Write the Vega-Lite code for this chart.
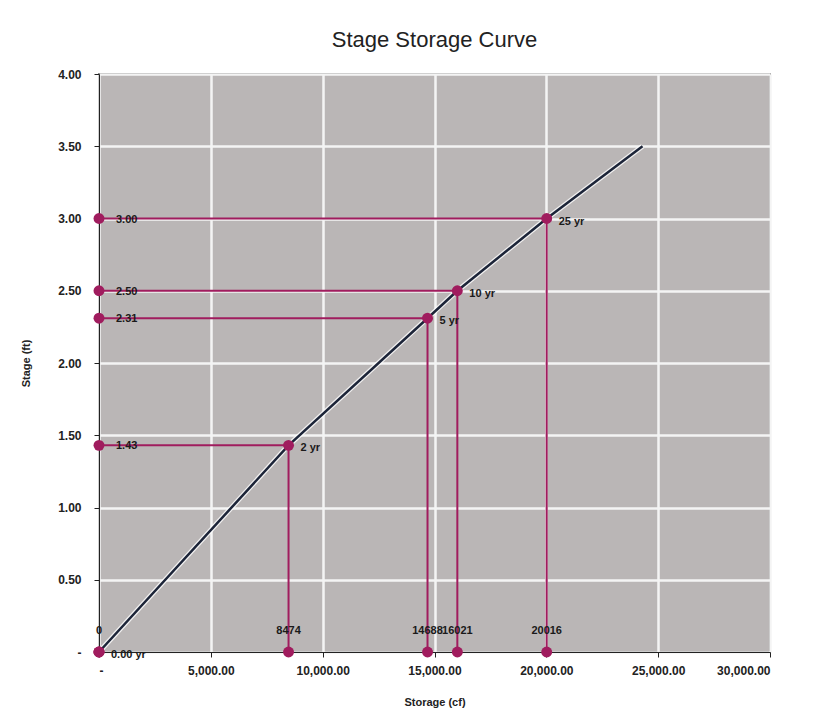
{
  "$schema": "https://vega.github.io/schema/vega-lite/v6.json",
  "autosize": "none",
  "width": 671,
  "height": 578,
  "padding": {"left": 99, "top": 74, "right": 53, "bottom": 75},
  "background": "white",
  "title": {"text": "Stage Storage Curve", "fontSize": 22, "font": "Liberation Sans", "fontWeight": "normal", "color": "#222222", "offset": 16},
  "config": {
    "view": {"fill": "#bab6b6", "stroke": "#333333", "strokeWidth": 1.5},
    "axis": {"labelFont": "Liberation Sans", "labelFontWeight": "bold", "labelFontSize": 12, "labelColor": "#222222", "titleFont": "Liberation Sans", "titleFontWeight": "bold", "titleFontSize": 11, "titleColor": "#222222", "domainColor": "#222222", "tickColor": "#222222"}
  },
  "datasets": {
    "curve": [
      {"s": 0, "h": 0},
      {"s": 8474, "h": 1.43},
      {"s": 14688, "h": 2.31},
      {"s": 16021, "h": 2.5},
      {"s": 20016, "h": 3.0},
      {"s": 24300, "h": 3.5}
    ],
    "events": [
      {"yr": "0.00 yr", "s": 0, "h": 0, "hlab": "", "slab": "0"},
      {"yr": "2 yr", "s": 8474, "h": 1.43, "hlab": "1.43", "slab": "8474"},
      {"yr": "5 yr", "s": 14688, "h": 2.31, "hlab": "2.31", "slab": "14688"},
      {"yr": "10 yr", "s": 16021, "h": 2.5, "hlab": "2.50", "slab": "16021"},
      {"yr": "25 yr", "s": 20016, "h": 3.0, "hlab": "3.00", "slab": "20016"}
    ]
  },
  "layer": [
    {
      "data": {"name": "curve"},
      "mark": {"type": "line", "color": "white", "strokeWidth": 5, "opacity": 0.8},
      "encoding": {
        "x": {"field": "s", "type": "quantitative", "scale": {"domain": [0, 30000], "nice": false},
          "axis": {"title": "Storage (cf)", "values": [0, 5000, 10000, 15000, 20000, 25000, 30000], "labelExpr": "datum.value == 0 ? '-' : format(datum.value, ',.2f')", "gridColor": "#f4f4f4", "gridWidth": 2.5, "gridOpacity": 1, "tickSize": 5, "labelPadding": 8, "titlePadding": 20}},
        "y": {"field": "h", "type": "quantitative", "scale": {"domain": [0, 4], "nice": false},
          "axis": {"title": "Stage (ft)", "values": [0, 0.5, 1, 1.5, 2, 2.5, 3, 3.5, 4], "labelExpr": "datum.value == 0 ? '-' : format(datum.value, '.2f')", "gridColor": "#f4f4f4", "gridWidth": 2.5, "gridOpacity": 1, "tickSize": 5, "labelPadding": 13, "titlePadding": 26}}
      }
    },
    {
      "data": {"name": "curve"},
      "mark": {"type": "line", "color": "#1c2438", "strokeWidth": 2.5},
      "encoding": {
        "x": {"field": "s", "type": "quantitative"},
        "y": {"field": "h", "type": "quantitative"}
      }
    },
    {
      "data": {"name": "events"},
      "mark": {"type": "rule", "color": "#a01c5e", "strokeWidth": 2},
      "encoding": {
        "x": {"field": "s", "type": "quantitative"},
        "x2": {"datum": 0},
        "y": {"field": "h", "type": "quantitative"}
      }
    },
    {
      "data": {"name": "events"},
      "mark": {"type": "rule", "color": "#a01c5e", "strokeWidth": 2},
      "encoding": {
        "x": {"field": "s", "type": "quantitative"},
        "y": {"field": "h", "type": "quantitative"},
        "y2": {"datum": 0}
      }
    },
    {
      "data": {"name": "events"},
      "mark": {"type": "point", "filled": true, "color": "#a01c5e", "size": 120, "opacity": 1},
      "encoding": {
        "x": {"field": "s", "type": "quantitative"},
        "y": {"field": "h", "type": "quantitative"}
      }
    },
    {
      "data": {"name": "events"},
      "mark": {"type": "point", "filled": true, "color": "#a01c5e", "size": 120, "opacity": 1},
      "encoding": {
        "x": {"datum": 0, "type": "quantitative"},
        "y": {"field": "h", "type": "quantitative"}
      }
    },
    {
      "data": {"name": "events"},
      "mark": {"type": "point", "filled": true, "color": "#a01c5e", "size": 120, "opacity": 1},
      "encoding": {
        "x": {"field": "s", "type": "quantitative"},
        "y": {"datum": 0, "type": "quantitative"}
      }
    },
    {
      "data": {"name": "events"},
      "mark": {"type": "text", "align": "left", "baseline": "middle", "dx": 17, "dy": 1, "font": "Liberation Sans", "fontWeight": "bold", "fontSize": 11, "color": "#1a1a1a"},
      "encoding": {
        "x": {"datum": 0, "type": "quantitative"},
        "y": {"field": "h", "type": "quantitative"},
        "text": {"field": "hlab"}
      }
    },
    {
      "data": {"name": "events"},
      "mark": {"type": "text", "align": "center", "baseline": "middle", "dy": -21, "font": "Liberation Sans", "fontWeight": "bold", "fontSize": 11, "color": "#1a1a1a"},
      "encoding": {
        "x": {"field": "s", "type": "quantitative"},
        "y": {"datum": 0, "type": "quantitative"},
        "text": {"field": "slab"}
      }
    },
    {
      "data": {"name": "events"},
      "mark": {"type": "text", "align": "left", "baseline": "middle", "dx": 12, "dy": 3, "font": "Liberation Sans", "fontWeight": "bold", "fontSize": 11, "color": "#1a1a1a"},
      "encoding": {
        "x": {"field": "s", "type": "quantitative"},
        "y": {"field": "h", "type": "quantitative"},
        "text": {"field": "yr"}
      }
    }
  ]
}
